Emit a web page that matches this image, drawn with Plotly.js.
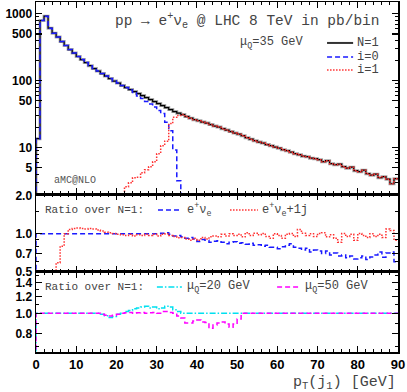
<!DOCTYPE html>
<html>
<head>
<meta charset="utf-8">
<script src="https://cdn.plot.ly/plotly-3.0.1.min.js"></script>
<style>body{margin:0;background:#fff}#plot{width:407px;height:392px}</style>
</head>
<body>
<div id="plot"></div>
<script>
// pT(j1) histogram, 1 GeV bins from 0 to 90
const binWidth = 1;

// N=1 (pb/bin)
const nOne = [13.6, 794, 920, 609, 513, 450, 385, 336, 292, 259,
  230, 207, 187, 168, 152, 139.5, 127.9, 117.4, 107.7, 98.8,
  92.2, 84.6, 79.0, 73.7, 68.8, 64.2, 60.0, 56.0, 52.3, 48.8,
  45.5, 42.5, 39.7, 37.0, 34.6, 32.8, 31.2, 29.1, 27.6, 26.2,
  25.3, 24.1, 23.3, 22.1, 21.0, 20.3, 19.2, 18.3, 17.4, 16.5,
  15.9, 15.1, 14.1, 13.4, 12.7, 12.1, 11.7, 11.1, 10.7, 10.2,
  9.83, 9.33, 9.02, 8.56, 8.13, 7.86, 7.46, 7.33, 6.97, 6.84,
  6.61, 6.17, 6.39, 5.76, 5.57, 5.66, 5.20, 4.93, 5.11, 4.53,
  4.38, 4.61, 4.08, 3.88, 4.01, 3.56, 3.68, 3.38, 2.89, 3.44];

// i=0, drops out of the plot after 36 GeV
const iZero = [13.6, 794, 920, 609, 513, 450, 385, 336, 292, 259,
  230, 207, 187, 168, 152, 139.5, 127.9, 117.4, 107.7, 98.8,
  92.2, 84.6, 79.0, 72.5, 66.5, 58.9, 54.1, 48.8, 44.8, 40.4,
  35.8, 32.3, 23.9, 17.9, 9.24, 3.21, 0.5];

// i=1, below 2 pb until 22 GeV
const iOne = [0.5, 0.5, 0.5, 0.5, 0.5, 0.5, 0.5, 0.5, 0.5, 0.5,
  0.5, 0.5, 0.5, 0.5, 0.5, 0.5, 0.5, 0.5, 0.5, 0.5,
  0.5, 0.5, 2.61, 2.99, 3.56, 3.62, 4.23, 4.69, 5.20, 6.17,
  8.13, 10.7, 12.5, 22.9, 28.4, 30.2, 31.2, 29.1, 27.6, 26.2,
  25.3, 24.1, 23.3, 22.1, 21.0, 20.3, 19.2, 18.3, 17.4, 16.5,
  15.9, 15.1, 14.1, 13.4, 12.7, 12.1, 11.7, 11.1, 10.7, 10.2,
  9.83, 9.33, 9.02, 8.56, 8.13, 7.86, 7.46, 7.33, 6.97, 6.84,
  6.61, 6.17, 6.39, 5.76, 5.57, 5.66, 5.20, 4.93, 5.11, 4.53,
  4.38, 4.61, 4.08, 3.88, 4.01, 3.56, 3.68, 3.38, 2.89, 3.44];

// ratio over N=1: e+ve and e+ve+1j
const ratioEv = [1, 1, 1, 1, 1, 1, 1, 1, 1, 1,
  1, 1, 1, 1, 1, 1, 1, 1, 1, 1,
  1, 1, 1, 1, 1, 1, 1, 1, 1, 1,
  1.0, 1.01, 1.02, 0.99, 0.96, 0.97, 0.945, 0.92, 0.935, 0.91,
  0.87, 0.90, 0.89, 0.857, 0.872, 0.88, 0.857, 0.834, 0.857, 0.864,
  0.842, 0.849, 0.827, 0.842, 0.812, 0.82, 0.798, 0.812, 0.784, 0.784,
  0.763, 0.79, 0.812, 0.834, 0.784, 0.77, 0.743, 0.77, 0.718, 0.743,
  0.73, 0.698, 0.73, 0.68, 0.705, 0.668, 0.68, 0.645, 0.668, 0.633,
  0.645, 0.668, 0.627, 0.656, 0.68, 0.718, 0.652, 0.705, 0.718, 0.60];

const ratioEvj = [0.3, 0.3, 0.3, 0.3, 0.3, 0.59, 0.798, 1.0, 1.08, 1.10,
  1.11, 1.10, 1.09, 1.10, 1.09, 1.07, 1.05, 1.03, 1.02, 1.005,
  0.99, 0.98, 0.97, 0.99, 0.96, 0.98, 0.97, 0.99, 0.97, 0.99,
  0.96, 0.99, 1.0, 0.97, 0.95, 0.93, 0.935, 0.91, 0.89, 0.92,
  0.89, 0.935, 0.91, 0.945, 0.96, 0.945, 0.99, 0.96, 1.0, 0.97,
  0.99, 0.945, 1.02, 0.97, 1.01, 0.98, 1.005, 0.95, 0.92, 1.0,
  0.97, 0.92, 0.99, 1.005, 0.95, 1.08, 1.01, 0.97, 1.0, 0.95,
  1.005, 1.02, 0.945, 0.98, 0.92, 0.857, 1.005, 0.95, 0.99, 0.89,
  1.005, 0.97, 0.935, 1.0, 0.95, 0.99, 0.935, 1.09, 1.06, 0.89];

// ratio over N=1: muQ = 20 and 50 GeV
const ratioMu20 = [1, 1, 1, 1, 1, 1, 1, 1, 1, 1,
  1, 1, 1, 1, 1, 1, 0.99, 0.975, 0.955, 0.965,
  0.99, 1.0, 1.02, 1.03, 1.05, 1.06, 1.07, 1.08, 1.06, 1.07,
  1.05, 1.06, 1.08, 1.07, 1.04, 1.02, 1, 1, 1, 1,
  1, 1, 1, 1, 1, 1, 1, 1, 1, 1,
  1, 1, 1, 1, 1, 1, 1, 1, 1, 1,
  1, 1, 1, 1, 1, 1, 1, 1, 1, 1,
  1, 1, 1, 1, 1, 1, 1, 1, 1, 1,
  1, 1, 1, 1, 1, 1, 1, 1, 1, 1];

const ratioMu50 = [1, 1, 1, 1, 1, 1, 1, 1, 1, 1,
  1, 1, 1, 1, 1, 1, 0.99, 0.98, 0.97, 0.98,
  0.99, 1.0, 1.005, 1.01, 1.0, 1.005, 1.01, 1.0, 1.005, 1.01,
  1.0, 1.02, 1.02, 1.01, 1.0, 0.97, 0.95, 0.90, 0.90, 0.92,
  0.93, 0.91, 0.905, 0.85, 0.88, 0.90, 0.91, 0.89, 0.86, 0.89,
  0.94, 1, 1, 1, 1, 1, 1, 1, 1, 1,
  1, 1, 1, 1, 1, 1, 1, 1, 1, 1,
  1, 1, 1, 1, 1, 1, 1, 1, 1, 1,
  1, 1, 1, 1, 1, 1, 1, 1, 1, 1];

// histogram as a step line, starting from below the axis at x=0
function stepTrace(vals, xa, ya, line){
  let x = [0], y = [1e-3];
  vals.forEach(function(v, i){ x.push(i * binWidth); y.push(v); });
  x.push(vals.length * binWidth); y.push(vals[vals.length - 1]);
  return {x: x, y: y, xaxis: xa, yaxis: ya, mode: 'lines',
    line: Object.assign({shape: 'hv'}, line), hoverinfo: 'skip'};
}

const BLUE = '#1a1aff', RED = '#ff3030', CYAN = '#00e0f0', MAG = '#ff00ff';
const DASH = '5px,3px', DOT = '1.5px,1.5px', DASHDOT = '6px,2px,1.5px,2px';

let traces = [
  stepTrace(nOne, 'x', 'y', {color: '#a8a8a8', width: 3}),
  stepTrace(nOne, 'x', 'y', {color: '#000', width: 1.2}),
  stepTrace(iZero, 'x', 'y', {color: BLUE, width: 1.5, dash: DASH}),
  stepTrace(iOne, 'x', 'y', {color: RED, width: 1.5, dash: DOT}),
  stepTrace(ratioEv, 'x2', 'y2', {color: BLUE, width: 1.5, dash: DASH}),
  stepTrace(ratioEvj, 'x2', 'y2', {color: RED, width: 1.5, dash: DOT}),
  stepTrace(ratioMu20, 'x3', 'y3', {color: CYAN, width: 1.5, dash: DASHDOT}),
  stepTrace(ratioMu50, 'x3', 'y3', {color: MAG, width: 1.5, dash: DASH})
];

const tickFont = {family: 'Liberation Sans, Arial, sans-serif', size: 12, color: '#000', weight: 'bold'};
const mono = 'Liberation Mono, Courier New, monospace';

function xAxis(anchor, labels){
  return {anchor: anchor, range: [0, 90], tickvals: [0,10,20,30,40,50,60,70,80,90],
    ticks: 'inside', ticklen: 6, tickwidth: 1.2, tickcolor: '#000',
    minor: {dtick: 2, ticks: 'inside', ticklen: 3, tickwidth: 1, tickcolor: '#000'},
    showline: true, linecolor: '#000', linewidth: 1.5, mirror: 'allticks',
    showgrid: false, zeroline: false, showticklabels: labels,
    tickfont: Object.assign({}, tickFont, {size: 13})};
}

function yAxis(anchor, domain, range, vals, text, minor){
  return {anchor: anchor, domain: domain, type: 'log', range: range,
    tickmode: 'array', tickvals: vals, ticktext: text, ticks: 'inside', ticklen: 6, tickwidth: 1.2, tickcolor: '#000',
    minor: {tickmode: 'array', tickvals: minor, ticks: 'inside', ticklen: 3, tickwidth: 1, tickcolor: '#000'},
    showline: true, linecolor: '#000', linewidth: 1.5, mirror: 'allticks',
    showgrid: false, zeroline: false, tickfont: tickFont};
}

const topMinor = [3,4,6,7,8,9,20,30,40,60,70,80,90,200,300,400,600,700,800,900];

let layout = {
  width: 407, height: 392,
  margin: {l: 36, r: 9, t: 2, b: 40},
  paper_bgcolor: '#fff', plot_bgcolor: '#fff',
  showlegend: false,
  xaxis: xAxis('y', false),
  xaxis2: xAxis('y2', false),
  xaxis3: xAxis('y3', true),
  yaxis: yAxis('x', [0.4514, 1], [Math.log10(2.03), Math.log10(1500)],
    [5, 10, 50, 100, 500, 1000], ['5', '10', '50', '100', '500', '1000'], topMinor),
  yaxis2: yAxis('x2', [0.2286, 0.4514], [Math.log10(0.499), Math.log10(2.06)],
    [0.5, 0.7, 1, 2], ['0.5', '0.7', '1.0', '2.0'], [0.6, 0.8, 0.9, 1.5]),
  yaxis3: yAxis('x3', [0, 0.2286], [Math.log10(0.657), Math.log10(1.566)],
    [0.8, 1, 1.2, 1.4], ['0.8', '1.0', '1.2', '1.4'], [0.7, 0.9, 1.1, 1.3, 1.5]),
  annotations: [
    {text: 'pp → e<sup>+</sup>ν<sub>e</sub> @ LHC 8 TeV in pb/bin', x: 0.956, y: 0.946,
      xanchor: 'right', font: {family: mono, size: 14.5}},
    {text: 'μ<sub>Q</sub>=35 GeV', x: 0.743, y: 0.883, xanchor: 'right', font: {family: mono, size: 12}},
    {text: 'N=1', x: 0.881, y: 0.883, xanchor: 'left', font: {family: mono, size: 12}},
    {text: 'i=0', x: 0.881, y: 0.843, xanchor: 'left', font: {family: mono, size: 12}},
    {text: 'i=1', x: 0.881, y: 0.806, xanchor: 'left', font: {family: mono, size: 12}},
    {text: 'aMC@NLO', x: 0.044, y: 0.491, xanchor: 'left', font: {family: mono, size: 10, color: '#555'}},
    {text: 'Ratio over N=1:', x: 0.019, y: 0.406, xanchor: 'left', font: {family: mono, size: 11}},
    {text: 'e<sup>+</sup>ν<sub>e</sub>', x: 0.412, y: 0.406, xanchor: 'left', font: {family: mono, size: 12}},
    {text: 'e<sup>+</sup>ν<sub>e</sub>+1j', x: 0.619, y: 0.406, xanchor: 'left', font: {family: mono, size: 12}},
    {text: 'Ratio over N=1:', x: 0.019, y: 0.186, xanchor: 'left', font: {family: mono, size: 11}},
    {text: 'μ<sub>Q</sub>=20 GeV', x: 0.412, y: 0.186, xanchor: 'left', font: {family: mono, size: 12}},
    {text: 'μ<sub>Q</sub>=50 GeV', x: 0.738, y: 0.186, xanchor: 'left', font: {family: mono, size: 12}},
    {text: 'p<sub>T</sub>(j<sub>1</sub>) [GeV]', x: 1, y: -0.089, xanchor: 'right', font: {family: mono, size: 15}}
  ].map(function(a){ return Object.assign({xref: 'paper', yref: 'paper', showarrow: false, yanchor: 'middle'}, a); }),
  shapes: [
    {x0: 0.804, x1: 0.876, y0: 0.883, y1: 0.883, line: {color: '#333', width: 2}},
    {x0: 0.804, x1: 0.876, y0: 0.843, y1: 0.843, line: {color: BLUE, width: 1.5, dash: DASH}},
    {x0: 0.804, x1: 0.876, y0: 0.806, y1: 0.806, line: {color: RED, width: 1.5, dash: DOT}},
    {x0: 0.337, x1: 0.398, y0: 0.406, y1: 0.406, line: {color: BLUE, width: 1.5, dash: DASH}},
    {x0: 0.536, x1: 0.613, y0: 0.406, y1: 0.406, line: {color: RED, width: 1.5, dash: DOT}},
    {x0: 0.334, x1: 0.403, y0: 0.186, y1: 0.186, line: {color: CYAN, width: 1.5, dash: DASHDOT}},
    {x0: 0.666, x1: 0.729, y0: 0.186, y1: 0.186, line: {color: MAG, width: 1.5, dash: DASH}}
  ].map(function(s){ return Object.assign({type: 'line', xref: 'paper', yref: 'paper'}, s); })
};

Plotly.newPlot('plot', traces, layout, {staticPlot: true});
</script>
</body>
</html>
